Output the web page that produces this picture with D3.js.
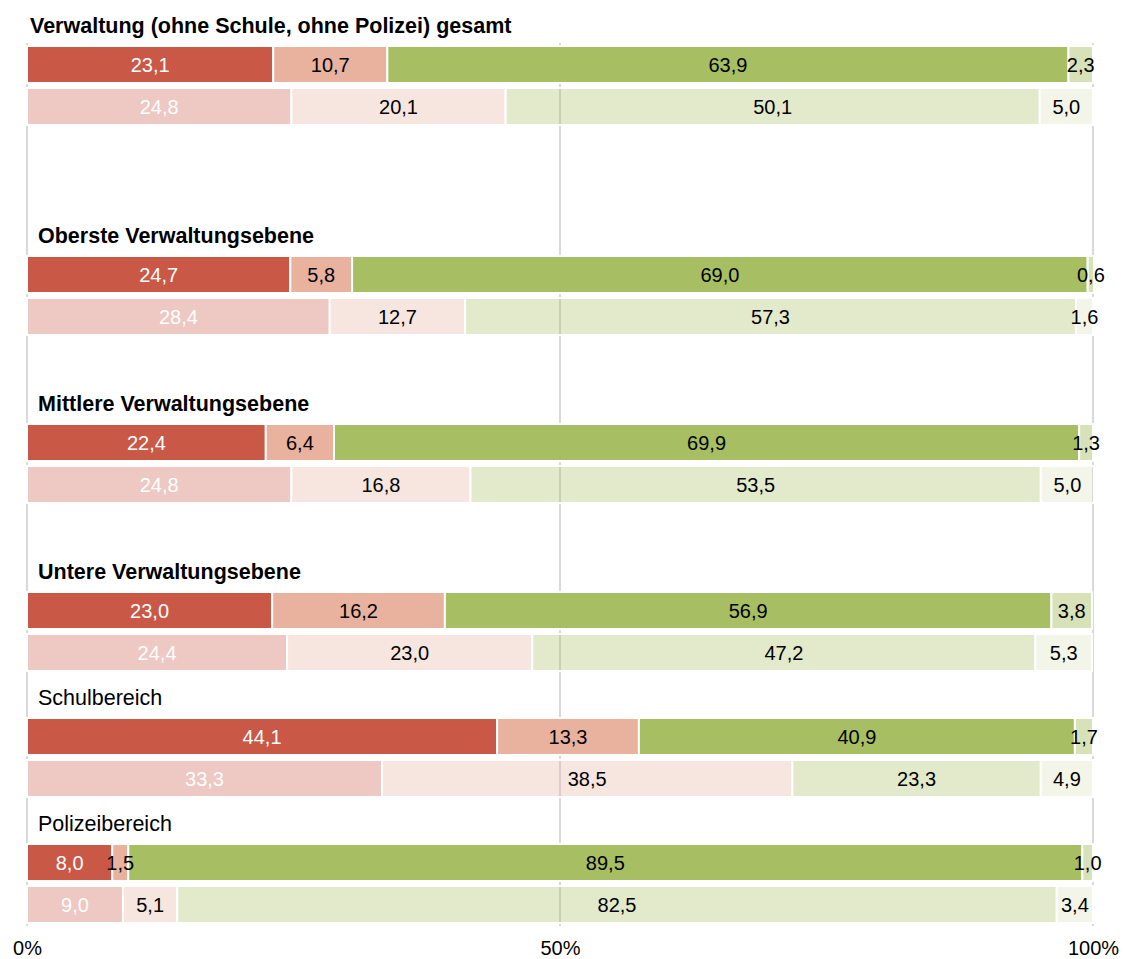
<!DOCTYPE html>
<html>
<head>
<meta charset="utf-8">
<script src="https://cdn.jsdelivr.net/npm/d3@7"></script>
<style>
  body { margin: 0; background: #fff; }
  text { font-family: "Liberation Sans", Arial, Helvetica, sans-serif; }
</style>
</head>
<body>
<svg id="chart" width="1123" height="959"></svg>
<script>
// Group headings, top to bottom
const groupTitles = [
  "Verwaltung (ohne Schule, ohne Polizei) gesamt",
  "Oberste Verwaltungsebene",
  "Mittlere Verwaltungsebene",
  "Untere Verwaltungsebene",
  "Schulbereich",
  "Polizeibereich"
];
const titleBold = [true, true, true, true, false, false];

// Four answer shares per bar (percent), upper bar of each group
const upperValues = [
  [23.1, 10.7, 63.9, 2.3],
  [24.7, 5.8, 69.0, 0.6],
  [22.4, 6.4, 69.9, 1.3],
  [23.0, 16.2, 56.9, 3.8],
  [44.1, 13.3, 40.9, 1.7],
  [8.0, 1.5, 89.5, 1.0]
];
// Lower (lighter) bar of each group
const lowerValues = [
  [24.8, 20.1, 50.1, 5.0],
  [28.4, 12.7, 57.3, 1.6],
  [24.8, 16.8, 53.5, 5.0],
  [24.4, 23.0, 47.2, 5.3],
  [33.3, 38.5, 23.3, 4.9],
  [9.0, 5.1, 82.5, 3.4]
];

// Axis tick values and their labels
const tickValues = [0, 50, 100];
const tickLabels = ["0%", "50%", "100%"];

// ---- layout & styling ----
const segmentColors = ["#ca5846", "#e8b29f", "#a7bf62", "#d7e2b8"];
const labelColors = ["#ffffff", "#000000", "#000000", "#000000"];
const lowerOpacity = 0.33;
const emptyRowsAfter = [2, 1, 1, 0, 0, 0];

// assign each heading / bar to a row slot
const rows = [];
let r = 0;
groupTitles.forEach((t, g) => {
  rows.push({ type: "title", row: r, g });
  rows.push({ type: "bar", row: r + 1, g, values: upperValues[g], light: false });
  rows.push({ type: "bar", row: r + 2, g, values: lowerValues[g], light: true });
  r += 3 + emptyRowsAfter[g];
});
const rowCount = r;

const svg = d3.select("#chart");
const x = d3.scaleLinear().domain([0, 100]).range([27, 1093]);
const y = d3.scaleBand().domain(d3.range(rowCount)).range([4, 923]).paddingInner(5 / 42);
const bw = y.bandwidth();

const barRows = rows.filter(d => d.type === "bar");
const firstBarRow = d3.min(barRows, d => d.row);
const lastBarRow = d3.max(barRows, d => d.row);

// vertical grid lines
svg.append("g")
  .selectAll("line")
  .data(tickValues)
  .join("line")
  .attr("x1", d => x(d)).attr("x2", d => x(d))
  .attr("y1", y(firstBarRow) - 3)
  .attr("y2", y(lastBarRow) + bw + 3)
  .attr("stroke", "#d9d9d9")
  .attr("stroke-width", 2);

// headings
svg.append("g")
  .selectAll("text")
  .data(rows.filter(d => d.type === "title"))
  .join("text")
  .attr("x", d => d.g === 0 ? 30 : 38)
  .attr("y", d => y(d.row) + bw - 8)
  .attr("font-size", 21.5)
  .attr("font-weight", d => titleBold[d.g] ? "bold" : "normal")
  .attr("fill", "#000")
  .text(d => groupTitles[d.g]);

// stacked bars
const segs = barRows.flatMap(d => {
  const ends = d3.cumsum(d.values);
  return d.values.map((v, i) => ({
    row: d.row, i, v, light: d.light,
    x0: ends[i] - v, x1: ends[i]
  }));
});

const barG = svg.append("g");
barG.selectAll("rect")
  .data(segs)
  .join("rect")
  .attr("x", d => x(d.x0))
  .attr("y", d => y(d.row))
  .attr("width", d => x(d.x1) - x(d.x0))
  .attr("height", bw)
  .attr("fill", d => segmentColors[d.i])
  .attr("fill-opacity", d => d.light ? lowerOpacity : 1)
  .attr("stroke", "#fff")
  .attr("stroke-width", 2);

const fmt = v => d3.format(".1f")(v).replace(".", ",");
barG.selectAll("text")
  .data(segs)
  .join("text")
  .attr("x", d => (x(d.x0) + x(d.x1)) / 2)
  .attr("y", d => y(d.row) + bw / 2)
  .attr("dy", "0.36em")
  .attr("text-anchor", "middle")
  .attr("font-size", 20)
  .attr("fill", d => labelColors[d.i])
  .text(d => fmt(d.v));

// percentage axis
const axis = d3.axisBottom(x)
  .tickValues(tickValues)
  .tickFormat((d, i) => tickLabels[i])
  .tickSize(0)
  .tickPadding(14);
const axG = svg.append("g")
  .attr("transform", `translate(0,${y(lastBarRow) + bw + 4})`)
  .call(axis);
axG.select(".domain").remove();
axG.selectAll("text")
  .attr("font-size", 20)
  .attr("font-family", "'Liberation Sans', Arial, sans-serif")
  .attr("fill", "#000");
</script>
</body>
</html>
